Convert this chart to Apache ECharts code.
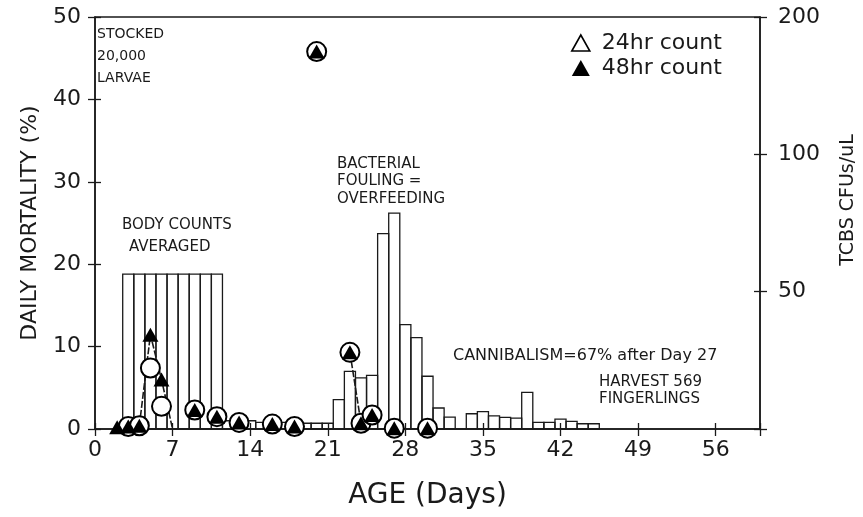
<!DOCTYPE html>
<html><head><meta charset="utf-8">
<script src="https://cdn.jsdelivr.net/npm/echarts@6/dist/echarts.min.js"></script>
<style>html,body{margin:0;padding:0;background:#fff}#c{width:863px;height:517px}</style>
</head><body><div id="c"></div>
<script>
// ---- data ----
const barDays   = [3,4,5,6,7,8,9,10,11,12,13,14,15,16,17,18,19,20,21,22,23,24,25,26,27,28,29,30,31,32,33,34,35,36,37,38,39,40,41,42,43,44,45];
const barValues = [18.8,18.8,18.8,18.8,18.8,18.8,18.8,18.8,18.8,1.0,0.9,1.0,0.8,0.8,0.8,0.7,0.7,0.7,0.7,3.56,7.0,6.2,6.5,23.7,26.2,12.66,11.1,6.4,2.55,1.45,0,1.85,2.1,1.6,1.4,1.33,4.45,0.8,0.8,1.2,0.92,0.64,0.64];
const days24   = [3,4,5,6,9,11,13,16,18,20,23,24,25,27,30];
const count24  = [0.3,0.4,7.4,2.75,2.3,1.5,0.8,0.6,0.3,45.8,9.3,0.7,1.7,0.1,0.1];
const days48   = [2,3,4,5,6,9,11,13,16,18,20,23,24,25,27,30];
const count48  = [0.2,0.3,0.4,11.45,6.0,2.3,1.5,0.8,0.6,0.3,45.8,9.3,0.7,1.7,0.1,0.1];
const linkDays   = [4,5,6,7,15,23,24];
const linkValues = [0.4,11.45,6.0,0,'-',9.3,0.7];
const xTicks = [0,7,14,21,28,35,42,49,56];
const yLeftTicks = [0,10,20,30,40,50];
const yRightLabels = ['', '50', '100', '200'];

const pair = (xs, ys) => xs.map((x, i) => [x, ys[i]]);
const FONT = 'DejaVu Sans';
const INK = '#1a1a1a';

const chart = echarts.init(document.getElementById('c'), null, {renderer: 'canvas'});
const axisLine = {show: true, lineStyle: {color: INK, width: 1.5}};
const txt = (text, x, y, size) => ({
  type: 'text', x: x, y: y,
  style: {text: text, fill: INK, font: size + 'px "' + FONT + '"', textAlign: 'left', textVerticalAlign: 'middle'}
});

chart.setOption({
  animation: false,
  backgroundColor: '#fff',
  grid: {left: 95, right: 103, top: 17, bottom: 88, show: true, borderColor: INK, borderWidth: 1.5, backgroundColor: 'transparent'},
  legend: {
    orient: 'vertical', left: 566, top: 27, itemWidth: 18, itemHeight: 16, itemGap: 3,
    formatter: n => ' ' + n,
    textStyle: {fontFamily: FONT, fontSize: 22, color: INK},
    data: [
      {name: '24hr count', icon: 'triangle', itemStyle: {color: '#fff', borderColor: '#000', borderWidth: 1.6}},
      {name: '48hr count', icon: 'triangle', itemStyle: {color: '#000'}}
    ]
  },
  xAxis: [{
    type: 'value', min: 0, max: 60, interval: 7, position: 'bottom',
    axisLine: axisLine, splitLine: {show: false},
    axisTick: {show: true, inside: false, length: 7, lineStyle: {color: INK, width: 1.3}},
    axisLabel: {fontFamily: FONT, fontSize: 22, color: INK, margin: 10,
      formatter: v => xTicks.indexOf(v) >= 0 ? String(v) : ''},
    name: 'AGE (Days)', nameLocation: 'middle', nameGap: 53,
    nameTextStyle: {fontFamily: FONT, fontSize: 28, color: INK}
  }, {
    type: 'value', min: 0, max: 60, interval: 7, position: 'bottom',
    axisLine: {show: false}, splitLine: {show: false}, axisLabel: {show: false},
    axisTick: {show: true, inside: true, length: 6, lineStyle: {color: INK, width: 1.3}}
  }],
  yAxis: [{
    type: 'value', min: 0, max: 50, interval: 10, position: 'left',
    axisLine: axisLine, splitLine: {show: false},
    axisTick: {show: true, inside: false, length: 7, lineStyle: {color: INK, width: 1.3}},
    axisLabel: {fontFamily: FONT, fontSize: 22, color: INK, margin: 14,
      formatter: v => yLeftTicks.indexOf(v) >= 0 ? String(v) : ''},
    name: 'DAILY MORTALITY (%)', nameLocation: 'middle', nameGap: 54, nameRotate: 90,
    nameTextStyle: {fontFamily: FONT, fontSize: 22, color: INK}
  }, {
    type: 'value', min: 0, max: 50, interval: 10, position: 'left',
    axisLine: {show: false}, splitLine: {show: false}, axisLabel: {show: false},
    axisTick: {show: true, inside: true, length: 6, lineStyle: {color: INK, width: 1.3}}
  }, {
    type: 'value', min: 0, max: 3, interval: 1, position: 'right',
    axisLine: axisLine, splitLine: {show: false},
    axisTick: {show: true, inside: false, length: 7, lineStyle: {color: INK, width: 1.3}},
    axisLabel: {fontFamily: FONT, fontSize: 22, color: INK, margin: 18,
      formatter: v => yRightLabels[v] || ''}
  }, {
    type: 'value', min: 0, max: 3, interval: 1, position: 'right',
    axisLine: {show: false}, splitLine: {show: false}, axisLabel: {show: false},
    axisTick: {show: true, inside: true, length: 6, lineStyle: {color: INK, width: 1.3}}
  }],
  graphic: [
    txt('STOCKED', 97, 34, 14),
    txt('20,000', 97, 56, 14),
    txt('LARVAE', 97, 78, 14),
    txt('BODY COUNTS', 122, 225, 15),
    txt('AVERAGED', 129, 247, 15),
    txt('BACTERIAL', 337, 164, 15),
    txt('FOULING =', 337, 181, 15),
    txt('OVERFEEDING', 337, 199, 15),
    txt('CANNIBALISM=67% after Day 27', 453, 356, 16),
    txt('HARVEST 569', 599, 382, 15),
    txt('FINGERLINGS', 599, 399, 15),
    {type: 'text', x: 848, y: 200, rotation: Math.PI / 2,
     style: {text: 'TCBS CFUs/uL', fill: INK, font: '19px "' + FONT + '"', textAlign: 'center', textVerticalAlign: 'middle'}}
  ],
  series: [{
    type: 'custom', name: 'bars', xAxisIndex: 0, yAxisIndex: 0, z: 2,
    data: pair(barDays, barValues), encode: {x: 0, y: 1},
    renderItem: (params, api) => {
      const d = api.value(0), v = api.value(1);
      const p0 = api.coord([d - 0.5, v]);
      const p1 = api.coord([d + 0.5, 0]);
      return {
        type: 'rect',
        shape: {x: p0[0], y: p0[1], width: p1[0] - p0[0], height: p1[1] - p0[1]},
        style: {fill: 'rgba(255,255,255,0)', stroke: INK, lineWidth: 1.3}
      };
    }
  }, {
    type: 'line', name: 'link', xAxisIndex: 0, yAxisIndex: 0,
    data: pair(linkDays, linkValues), showSymbol: false, symbol: 'none', connectNulls: false, z: 3,
    lineStyle: {color: INK, width: 1.6, type: [7, 2]}
  }, {
    type: 'scatter', name: '24hr count', xAxisIndex: 0, yAxisIndex: 0,
    data: pair(days24, count24), symbol: 'circle', symbolSize: 19, z: 4,
    itemStyle: {color: '#fff', borderColor: '#000', borderWidth: 2, opacity: 1}
  }, {
    type: 'scatter', name: '48hr count', xAxisIndex: 0, yAxisIndex: 0,
    data: pair(days48, count48), symbol: 'triangle', symbolSize: [16, 14], z: 5,
    itemStyle: {color: '#000', opacity: 1}
  }]
});
</script>
</body></html>
